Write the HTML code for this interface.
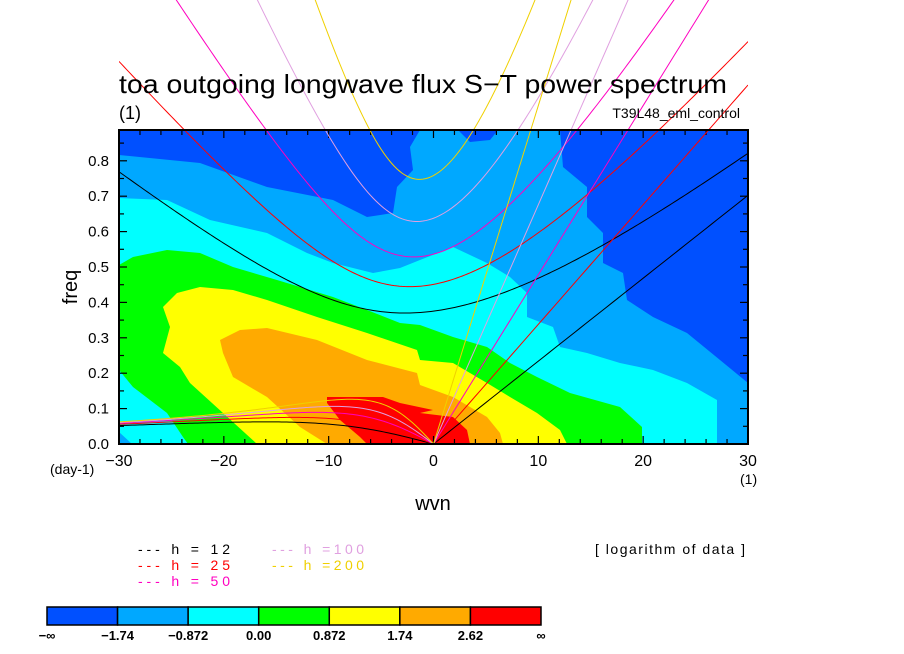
<!DOCTYPE html>
<html><head><meta charset="utf-8"><style>
html,body{margin:0;padding:0;background:#fff;}
svg{display:block;font-family:"Liberation Sans",sans-serif;}
</style></head><body>
<svg id="chart" width="904" height="654" viewBox="0 0 904 654" xmlns="http://www.w3.org/2000/svg">
<defs><clipPath id="plotclip"><rect x="119" y="0" width="629" height="444"/></clipPath></defs>
<g id="contours">
<rect x="119" y="130" width="629" height="314" fill="#00a8ff"/>
<polygon fill="#0050ff" points="119,130 420,130 410,147 413,170 397,187 393,213 367,217 333,200 267,187 200,163 119,155"/>
<polygon fill="#0050ff" points="560,130 748,130 748,383 720,360 687,333 653,317 627,300 623,273 603,263 603,233 587,217 587,187 563,167"/>
<polygon fill="#0050ff" points="458,130 498,130 490,140 470,142"/>
<polygon fill="#00ffff" points="119,198 167,200 210,220 267,233 307,253 333,263 373,273 400,268 420,260 453,247 487,263 510,277 527,293 527,317 553,327 560,347 587,353 620,363 653,370 687,383 717,400 717,444 132,444 119,432"/>
<polygon fill="#00ff00" points="119,265 133,257 167,250 200,253 233,267 277,280 333,297 367,310 400,323 420,325 453,337 487,347 510,363 537,377 570,393 620,407 642,427 642,444 188,444 183,437 167,413 133,387 119,370"/>
<polygon fill="#ffff00" points="257,444 223,413 190,383 180,367 163,353 170,327 163,307 177,293 200,287 233,290 267,300 317,317 367,333 417,350 420,360 453,363 487,383 510,397 537,413 560,430 567,444"/>
<polygon fill="#ffaa00" points="327,444 300,427 267,397 233,377 223,353 220,340 240,330 267,328 317,340 367,360 417,373 420,385 453,397 487,417 500,433 503,444"/>
<polygon fill="#ff0000" points="367,444 360,437 340,420 327,403 327,397 383,397 400,403 433,410 420,413 453,417 467,430 470,444"/>
</g>
<g id="axes"></g>
<g id="curves" clip-path="url(#plotclip)"></g>
<rect x="119" y="130" width="629" height="314" fill="none" stroke="#000" stroke-width="2"/>
<text x="119" y="93" font-size="26" textLength="608" lengthAdjust="spacingAndGlyphs">toa outgoing longwave flux S−T power spectrum</text>
<text x="119" y="119" font-size="18">(1)</text>
<text x="740" y="118" font-size="14" text-anchor="end">T39L48_eml_control</text>
<text x="433" y="510" font-size="20" text-anchor="middle">wvn</text>
<text x="77" y="287" font-size="20" text-anchor="middle" transform="rotate(-90 77 287)">freq</text>
<text x="50" y="474" font-size="14">(day-1)</text>
<text x="740" y="484" font-size="14">(1)</text>
<g id="legend"></g>
<text x="595" y="554" font-size="14" textLength="150" lengthAdjust="spacing">[ logarithm of data ]</text>
<g id="colorbar"></g>
</svg>
<script>
const hVals = [12, 25, 50, 100, 200];
const hColors = ["#000000", "#ff0000", "#ff00c0", "#e0a0e0", "#f0d000"];
const xTicks = [-30, -20, -10, 0, 10, 20, 30];
const yTicks = [0.0, 0.1, 0.2, 0.3, 0.4, 0.5, 0.6, 0.7, 0.8];
const cbColors = ["#0050ff", "#00a8ff", "#00ffff", "#00ff00", "#ffff00", "#ffaa00", "#ff0000"];
const cbLabels = ["−∞", "−1.74", "−0.872", "0.00", "0.872", "1.74", "2.62", "∞"];

const NS = "http://www.w3.org/2000/svg";
const X0 = 119, X1 = 748, Y0 = 444, PXF = 354;
const sx = k => X0 + (k + 30) / 60 * (X1 - X0);
const sy = f => Y0 - f * PXF;
function mk(tag, attrs, parent) {
  const e = document.createElementNS(NS, tag);
  for (const a in attrs) e.setAttribute(a, attrs[a]);
  parent.appendChild(e);
  return e;
}
const axes = document.getElementById("axes");
for (let k = -30; k <= 30; k += 2) {
  const major = k % 10 === 0;
  const L = major ? 8 : 5;
  const t1 = mk("line", {x1: sx(k), x2: sx(k), y1: Y0, y2: Y0 - L, stroke: "#000", "stroke-width": 1.2}, axes);
  
  
  const t2 = mk("line", {x1: sx(k), x2: sx(k), y1: 130, y2: 130 + L, stroke: "#000", "stroke-width": 1.2}, axes);
  
  
}
xTicks.forEach(k => {
  const t = mk("text", {x: sx(k), y: 466, "font-size": 16, "text-anchor": "middle"}, axes);
  
  
  t.textContent = k < 0 ? "−" + (-k) : String(k);
});
for (let i = 0; i <= 17; i++) {
  const f = i * 0.05;
  const L = i % 2 === 0 ? 8 : 5;
  const t1 = mk("line", {x1: X0, x2: X0 + L, y1: sy(f), y2: sy(f), stroke: "#000", "stroke-width": 1.2}, axes);
  
  
  const t2 = mk("line", {x1: X1, x2: X1 - L, y1: sy(f), y2: sy(f), stroke: "#000", "stroke-width": 1.2}, axes);
  
  
}
yTicks.forEach(f => {
  const t = mk("text", {x: 109, y: sy(f) + 5, "font-size": 15, "text-anchor": "end"}, axes);
  
  
  t.textContent = f.toFixed(1);
});

const g = 9.81, a = 6.371e6, beta = 2 * 7.292e-5 / a, toCpd = 86400 / (2 * Math.PI);
const curves = document.getElementById("curves");
hVals.forEach((h, i) => {
  const c = Math.sqrt(g * h);
  const col = hColors[i];
  let pk = [];
  for (let wn = 0; wn <= 30; wn += 0.5) pk.push([sx(wn), sy(c * wn / a * toCpd)]);
  const p1 = mk("polyline", {points: pk.map(p => p.join(",")).join(" "), fill: "none", stroke: col, "stroke-width": 1}, curves);
  
  
  let pr = [];
  for (let wn = -30; wn <= 0; wn += 0.25) {
    const k = wn / a;
    pr.push([sx(wn), sy(-beta * k / (k * k + 3 * beta / c) * toCpd)]);
  }
  const p2 = mk("polyline", {points: pr.map(p => p.join(",")).join(" "), fill: "none", stroke: col, "stroke-width": 1}, curves);
  
  
  let pg = [];
  for (let wn = -30; wn <= 30; wn += 0.25) {
    const k = wn / a;
    let w = Math.sqrt(3 * beta * c + c * c * k * k);
    for (let it = 0; it < 30; it++) w = Math.sqrt(Math.max(1e-20, 3 * beta * c + c * c * k * k + c * c * beta * k / w));
    pg.push([sx(wn), sy(w * toCpd)]);
  }
  const p3 = mk("polyline", {points: pg.map(p => p.join(",")).join(" "), fill: "none", stroke: col, "stroke-width": 1}, curves);
  
  
});

const leg = document.getElementById("legend");
hVals.forEach((h, i) => {
  const col = i < 3 ? 0 : 1, row = i < 3 ? i : i - 3;
  const x = 138 + col * 134, y = 554 + row * 16;
  const t = mk("text", {x: x, y: y, "font-size": 14, fill: hColors[i], "xml:space": "preserve", textLength: 92, lengthAdjust: "spacing"}, leg);
  
  
  const hs = String(h);
  t.textContent = "---  h  =" + (hs.length < 3 ? "  " + hs : hs);
});

const cb = document.getElementById("colorbar");
const cbx0 = 47, cbw = 494 / 7;
cbColors.forEach((cl, i) => {
  const r = mk("rect", {x: cbx0 + i * cbw, y: 607, width: cbw, height: 18, fill: cl, stroke: "#000", "stroke-width": 1.5}, cb);
  
  
});
cbLabels.forEach((lb, i) => {
  const t = mk("text", {x: cbx0 + i * cbw, y: 640, "font-size": 13, "font-weight": "bold", "text-anchor": "middle"}, cb);
  
  
  t.textContent = lb;
});
</script>
</body></html>
